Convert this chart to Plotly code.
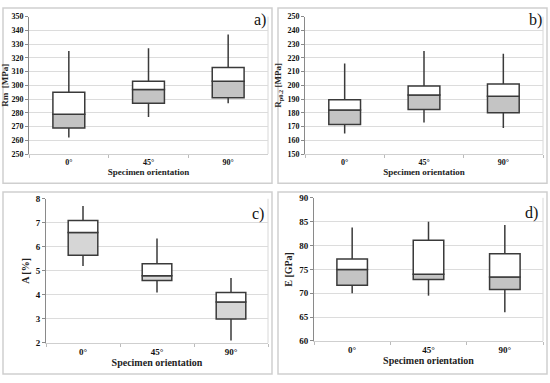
import plotly.graph_objects as go

categories = ["0°", "45°", "90°"]

# Panel a) Rm [MPa]
rm_min = [262, 277, 287]
rm_q1 = [269, 287, 291]
rm_med = [279, 297, 303]
rm_q3 = [295, 303, 313]
rm_max = [325, 327, 337]

# Panel b) Rp0.2 [MPa]
rp_min = [165, 173, 169]
rp_q1 = [171.5, 182.5, 180]
rp_med = [182, 193, 192]
rp_q3 = [189.5, 199.5, 201]
rp_max = [216, 225, 223]

# Panel c) A [%]
a_min = [5.2, 4.1, 2.1]
a_q1 = [5.65, 4.6, 3.0]
a_med = [6.6, 4.8, 3.7]
a_q3 = [7.1, 5.3, 4.1]
a_max = [7.7, 6.35, 4.7]

# Panel d) E [GPa]
e_min = [70, 69.5, 66]
e_q1 = [71.7, 72.9, 70.8]
e_med = [75, 74, 73.4]
e_q3 = [77.2, 81.1, 78.3]
e_max = [83.8, 85, 84.3]

W, H = 550, 383
FONT = "Liberation Serif"
DARK = "#3a3a3a"

panels = [
    dict(key="", mn=rm_min, q1=rm_q1, md=rm_med, q3=rm_q3, mx=rm_max,
         rng=[250, 350], dt=10, title="<b>Rm  [MPa]</b>", label="a)", fill="#c4c4c4",
         px=(29, 268), py=(12, 153), frame=(3, 3, 272, 183), tf=8, lab=(260, 15)),
    dict(key="2", mn=rp_min, q1=rp_q1, md=rp_med, q3=rp_q3, mx=rp_max,
         rng=[150, 250], dt=10, title="<b>R<sub>p0.2</sub> [MPa]</b>", label="b)", fill="#c4c4c4",
         px=(305, 543), py=(12, 153), frame=(278, 3, 547, 183), tf=8, lab=(535, 15)),
    dict(key="3", mn=a_min, q1=a_q1, md=a_med, q3=a_q3, mx=a_max,
         rng=[2, 8], dt=1, title="<b>A [%]</b>", label="c)", fill="#d6d6d6",
         px=(46, 268), py=(199, 347), frame=(3, 192, 272, 379), tf=9, lab=(258, 215)),
    dict(key="4", mn=e_min, q1=e_q1, md=e_med, q3=e_q3, mx=e_max,
         rng=[60, 90], dt=5, title="<b>E [GPa]</b>", label="d)", fill="#c4c4c4",
         px=(314, 543), py=(198, 345), frame=(278, 192, 547, 379), tf=9, lab=(531, 214)),
]

fig = go.Figure()
shapes = []
annotations = []

for p in panels:
    xa = "x" + p["key"]
    ya = "y" + p["key"]
    # whiskers
    wx, wy = [], []
    for c, lo, q1, q3, hi in zip(categories, p["mn"], p["q1"], p["q3"], p["mx"]):
        wx += [c, c, None, c, c, None]
        wy += [lo, q1, None, q3, hi, None]
    fig.add_trace(go.Scatter(x=wx, y=wy, mode="lines", xaxis=xa, yaxis=ya,
                             line=dict(color=DARK, width=1.5), showlegend=False,
                             hoverinfo="skip"))
    # lower box (Q1 -> median), grey
    fig.add_trace(go.Bar(x=categories, base=p["q1"],
                         y=[m - q for m, q in zip(p["md"], p["q1"])],
                         width=0.4, xaxis=xa, yaxis=ya, showlegend=False,
                         marker=dict(color=p["fill"], line=dict(color=DARK, width=1.5))))
    # upper box (median -> Q3), white
    fig.add_trace(go.Bar(x=categories, base=p["md"],
                         y=[q - m for q, m in zip(p["q3"], p["md"])],
                         width=0.4, xaxis=xa, yaxis=ya, showlegend=False,
                         marker=dict(color="white", line=dict(color=DARK, width=1.5))))

    x0, x1 = p["px"]
    y0, y1 = p["py"]
    xd = [x0 / W, x1 / W]
    yd = [1 - y1 / H, 1 - y0 / H]
    xname = "xaxis" + p["key"]
    yname = "yaxis" + p["key"]
    fig.layout[xname] = dict(
        domain=xd, anchor=ya, type="category", range=[-0.5, 2.5],
        showline=True, linecolor="#cfcfcf", linewidth=1,
        ticks="outside", tickson="boundaries", ticklen=3, tickcolor="#bbbbbb",
        showgrid=False,
        tickfont=dict(family=FONT, size=p["tf"], color="#111", weight="bold"),
        title=dict(text="<b>Specimen orientation</b>", standoff=2,
                   font=dict(family=FONT, size=p["tf"] + 1, color="#222")),
    )
    fig.layout[yname] = dict(
        domain=yd, anchor=xa, range=p["rng"], dtick=p["dt"], tick0=p["rng"][0],
        showline=True, linecolor="#8a8a8a", linewidth=1,
        ticks="outside", ticklen=3, tickcolor="#8a8a8a",
        showgrid=True, gridcolor="#dcdcdc", gridwidth=1, zeroline=False,
        tickfont=dict(family=FONT, size=p["tf"], color="#111", weight="bold"),
        title=dict(text=p["title"], standoff=4,
                   font=dict(family=FONT, size=p["tf"] + 1, color="#222")),
    )
    fx0, fy0, fx1, fy1 = p["frame"]
    shapes.append(dict(type="rect", xref="paper", yref="paper",
                       x0=fx0 / W, x1=fx1 / W, y0=1 - fy1 / H, y1=1 - fy0 / H,
                       line=dict(color="#cfcfcf", width=1.5), layer="below"))
    shapes.append(dict(type="line", xref=xa + " domain", yref=ya + " domain",
                       x0=1, x1=1, y0=0, y1=1,
                       line=dict(color="#d8d8d8", width=1), layer="below"))
    lx, ly = p["lab"]
    annotations.append(dict(text=p["label"], xref="paper", yref="paper",
                            x=lx / W, y=1 - ly / H, xanchor="center", yanchor="middle",
                            showarrow=False,
                            font=dict(family=FONT, size=16, color="#111")))

fig.update_layout(
    width=W, height=H, margin=dict(l=0, r=0, t=0, b=0),
    paper_bgcolor="white", plot_bgcolor="white",
    barmode="overlay", shapes=shapes, annotations=annotations,
)

fig.write_html("out.html", config={"displayModeBar": False},
               post_script="document.body.style.margin='0';document.body.style.overflow='hidden';")
